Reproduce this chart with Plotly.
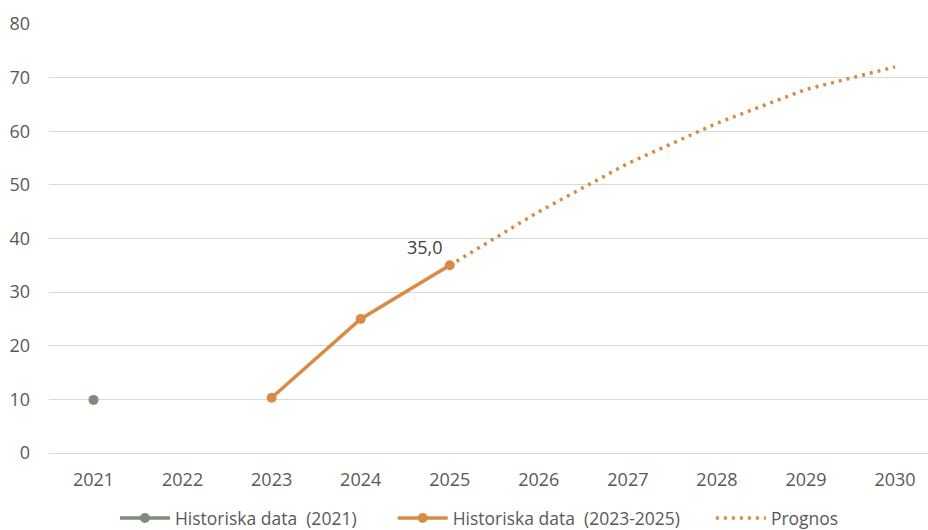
import plotly.graph_objects as go

# Years on the category axis
years = ["2021", "2022", "2023", "2024", "2025", "2026", "2027", "2028", "2029", "2030"]

# Historical observation for 2021
hist_2021_x = ["2021"]
hist_2021_y = [9.9]

# Historical data 2023-2025
hist_recent_x = ["2023", "2024", "2025"]
hist_recent_y = [10.3, 25.0, 35.0]

# Forecast 2025-2030
forecast_x = ["2025", "2026", "2027", "2028", "2029", "2030"]
forecast_y = [35.0, 45.0, 54.0, 61.5, 67.8, 72.0]

y_ticks = [0, 10, 20, 30, 40, 50, 60, 70, 80]

GREEN = "#7F8C78"
ORANGE = "#D98B45"
TEXT = "#595959"
GRID = "#D9D9D9"
FONT = "Open Sans"

# Only the last historical point carries a value label
recent_labels = [""] * (len(hist_recent_y) - 1) + [f"{hist_recent_y[-1]:.1f}".replace(".", ",")]

fig = go.Figure()

fig.add_trace(go.Scatter(
    x=hist_2021_x, y=hist_2021_y, name="Historiska data  (2021)",
    mode="lines+markers", legend="legend",
    line=dict(color=GREEN, width=3.5),
    marker=dict(color=GREEN, size=10),
))

fig.add_trace(go.Scatter(
    x=hist_recent_x, y=hist_recent_y, name="Historiska data  (2023-2025)",
    mode="lines+markers+text", legend="legend2",
    text=recent_labels, textposition="top left",
    textfont=dict(family=FONT, size=18, color="#404040"),
    line=dict(color=ORANGE, width=3.5),
    marker=dict(color=ORANGE, size=10),
))

fig.add_trace(go.Scatter(
    x=forecast_x, y=forecast_y, name="Prognos",
    mode="lines", legend="legend3",
    line=dict(color=ORANGE, width=3.5, dash="3px,5px"),
))

legend_style = dict(
    orientation="h", xanchor="left", y=-0.11, yanchor="top",
    font=dict(family=FONT, size=17.5, color=TEXT),
    itemwidth=50, bgcolor="rgba(0,0,0,0)",
)

fig.update_layout(
    width=928, height=530,
    margin=dict(l=49, r=0, t=24, b=77, autoexpand=False),
    paper_bgcolor="white", plot_bgcolor="white",
    font=dict(family=FONT, size=18, color=TEXT),
    showlegend=True,
    legend=dict(legend_style, x=0.075),
    legend2=dict(legend_style, x=0.391),
    legend3=dict(legend_style, x=0.753),
)

fig.update_xaxes(
    type="category", categoryorder="array", categoryarray=years,
    range=[-0.5, 9.37],
    showgrid=False, showline=False, zeroline=False,
    ticks="", ticklabelstandoff=14,
    tickfont=dict(family=FONT, size=18, color=TEXT),
)

fig.update_yaxes(
    range=[0, 80], tickvals=y_ticks,
    showgrid=True, gridcolor=GRID, gridwidth=1.3,
    zeroline=True, zerolinecolor=GRID, zerolinewidth=1.3,
    showline=False, ticks="",
    ticklabelstandoff=18,
    tickfont=dict(family=FONT, size=18, color=TEXT),
)

fig.write_html("out.html")
